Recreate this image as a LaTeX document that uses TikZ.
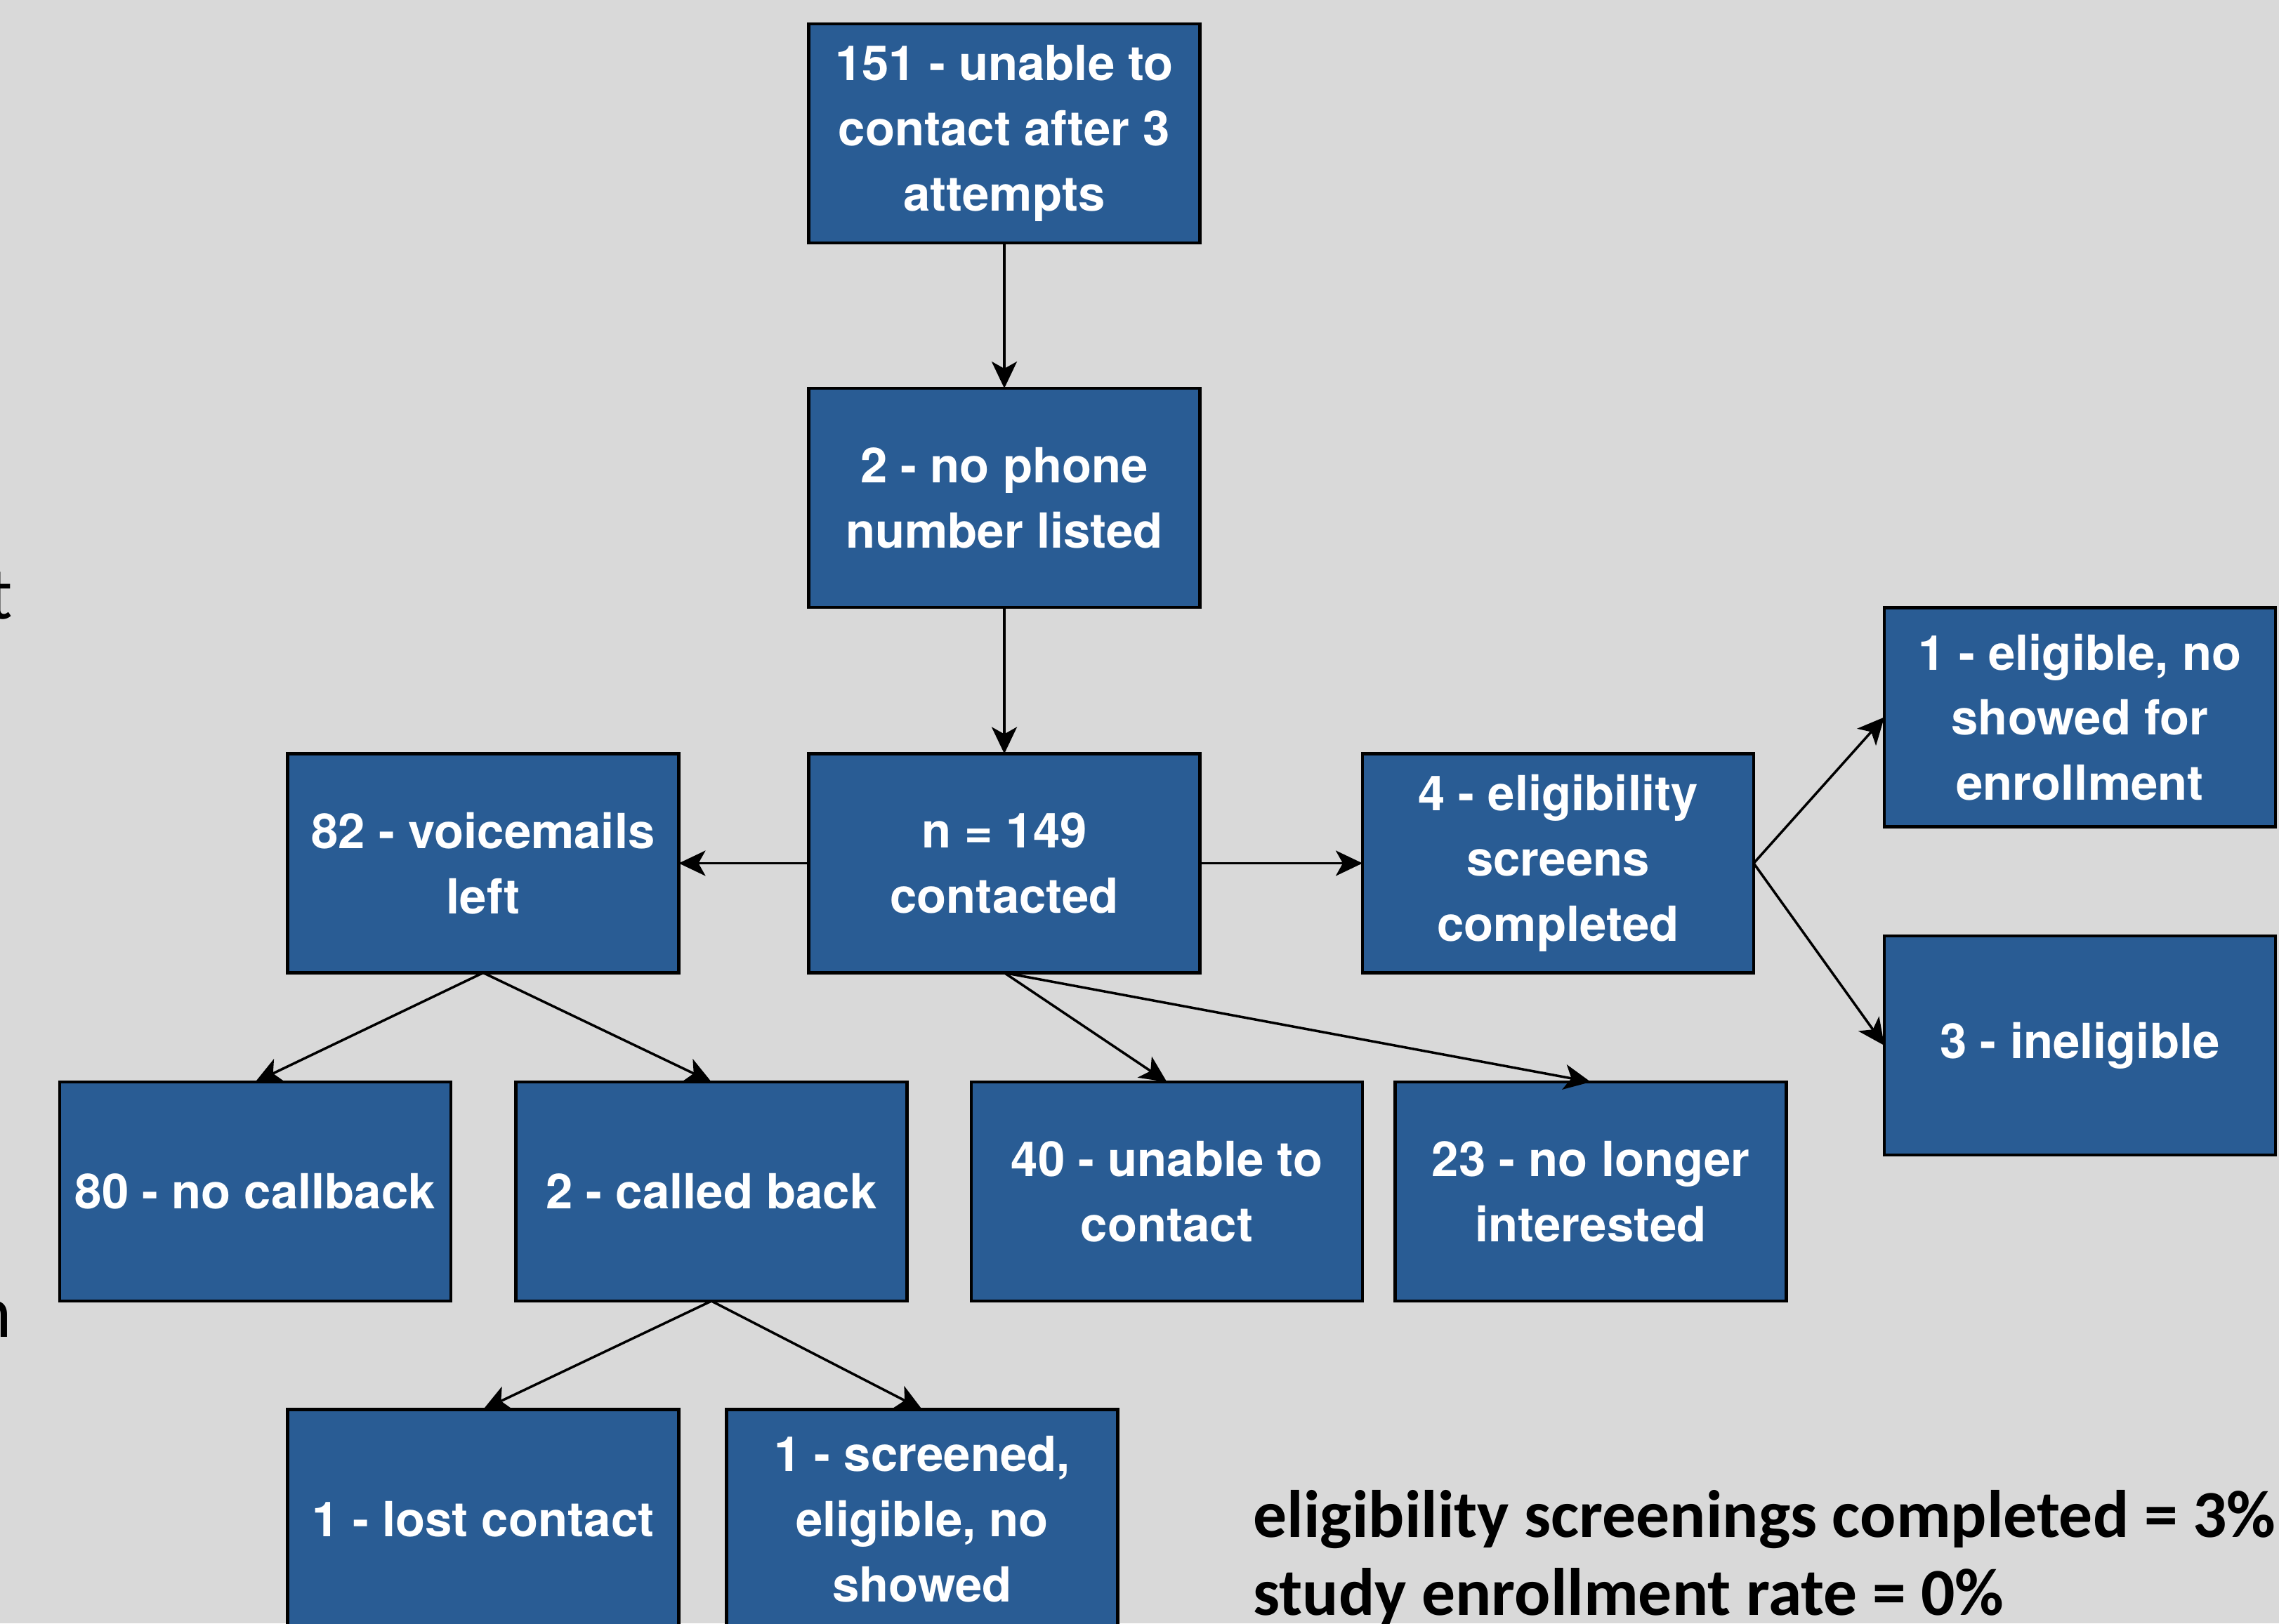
\documentclass[tikz,border=0pt]{standalone}
\usepackage{fontspec}
\newfontfamily\boxfont{TeX Gyre Heros}
\newfontfamily\calfont{Carlito}
\usepackage{xcolor}
\usetikzlibrary{arrows.meta}
\definecolor{flowbg}{HTML}{D9D9D9}
\definecolor{flowblue}{HTML}{295C94}
\definecolor{flowink}{HTML}{000000}

\begin{document}
\begin{tikzpicture}[
  stepbox/.style={
    draw=flowink,
    fill=flowblue,
    text=white,
    line width=1.2pt,
    align=center,
    font=\boxfont\bfseries\fontsize{19.6}{26.4}\selectfont,
    minimum width=5.57cm,
    minimum height=3.12cm,
    inner sep=0pt,
    outer sep=0pt
  },
  flow/.style={
    draw=flowink,
    line width=1.0pt,
    -{Stealth[length=0.38cm,width=0.36cm,inset=0.1cm]}
  },
  summary/.style={
    font=\calfont\bfseries\fontsize{27.2}{31.5}\selectfont,
    text=flowink,
    align=left,
    inner sep=0pt
  },
  edgetext/.style={
    font=\calfont\fontsize{30}{36}\selectfont,
    text=flowink,
    inner sep=0pt
  }
]

\fill[flowbg] (0,0) rectangle (32.45,23.12);
\useasboundingbox (0,0) rectangle (32.45,23.12);

\node[edgetext,anchor=base east] (cutt) at (0.19,14.30) {t};
\node[edgetext,anchor=base east] (cutn) at (0.18,4.07) {n};

\node[stepbox] (attempts) at (14.30,21.22) {151 - unable to\\contact after 3\\attempts};
\node[stepbox] (nophone) at (14.30,16.03) {2 - no phone\\number listed};
\node[stepbox] (contacted) at (14.30,10.825) {n = 149\\contacted};
\node[stepbox] (voicemail) at (6.88,10.825) {82 - voicemails\\left};
\node[stepbox] (screens) at (22.185,10.825) {4 - eligibility\\screens\\completed};
\node[stepbox] (eligno) at (29.615,12.905) {1 - eligible, no\\showed for\\enrollment};
\node[stepbox] (inelig) at (29.615,8.23) {3 - ineligible};

\node[stepbox] (nocallback) at (3.635,6.15) {80 - no callback};
\node[stepbox] (calledback) at (10.13,6.15) {2 - called back};
\node[stepbox] (unable) at (16.615,6.15) {40 - unable to\\contact};
\node[stepbox] (nolonger) at (22.65,6.15) {23 - no longer\\interested};

\node[stepbox] (lost) at (6.88,1.485) {1 - lost contact};
\node[stepbox] (screened) at (13.13,1.485) {1 - screened,\\eligible, no\\showed};

\draw[flow] (attempts.south) -- (nophone.north);
\draw[flow] (nophone.south) -- (contacted.north);
\draw[flow] (contacted.west) -- (voicemail.east);
\draw[flow] (contacted.east) -- (screens.west);
\draw[flow] (screens.east) -- (eligno.west);
\draw[flow] (screens.east) -- (inelig.west);

\draw[flow] (voicemail.south) -- (nocallback.north);
\draw[flow] (voicemail.south) -- (calledback.north);
\draw[flow] (contacted.south) -- (unable.north);
\draw[flow] (contacted.south) -- (nolonger.north);
\draw[flow] (calledback.south) -- (lost.north);
\draw[flow] (calledback.south) -- (screened.north);

\node[summary,anchor=base west] (rates) at (17.84,0.12)
  {eligibility screenings completed = 3\%\\study enrollment rate = 0\%};

\end{tikzpicture}
\end{document}
